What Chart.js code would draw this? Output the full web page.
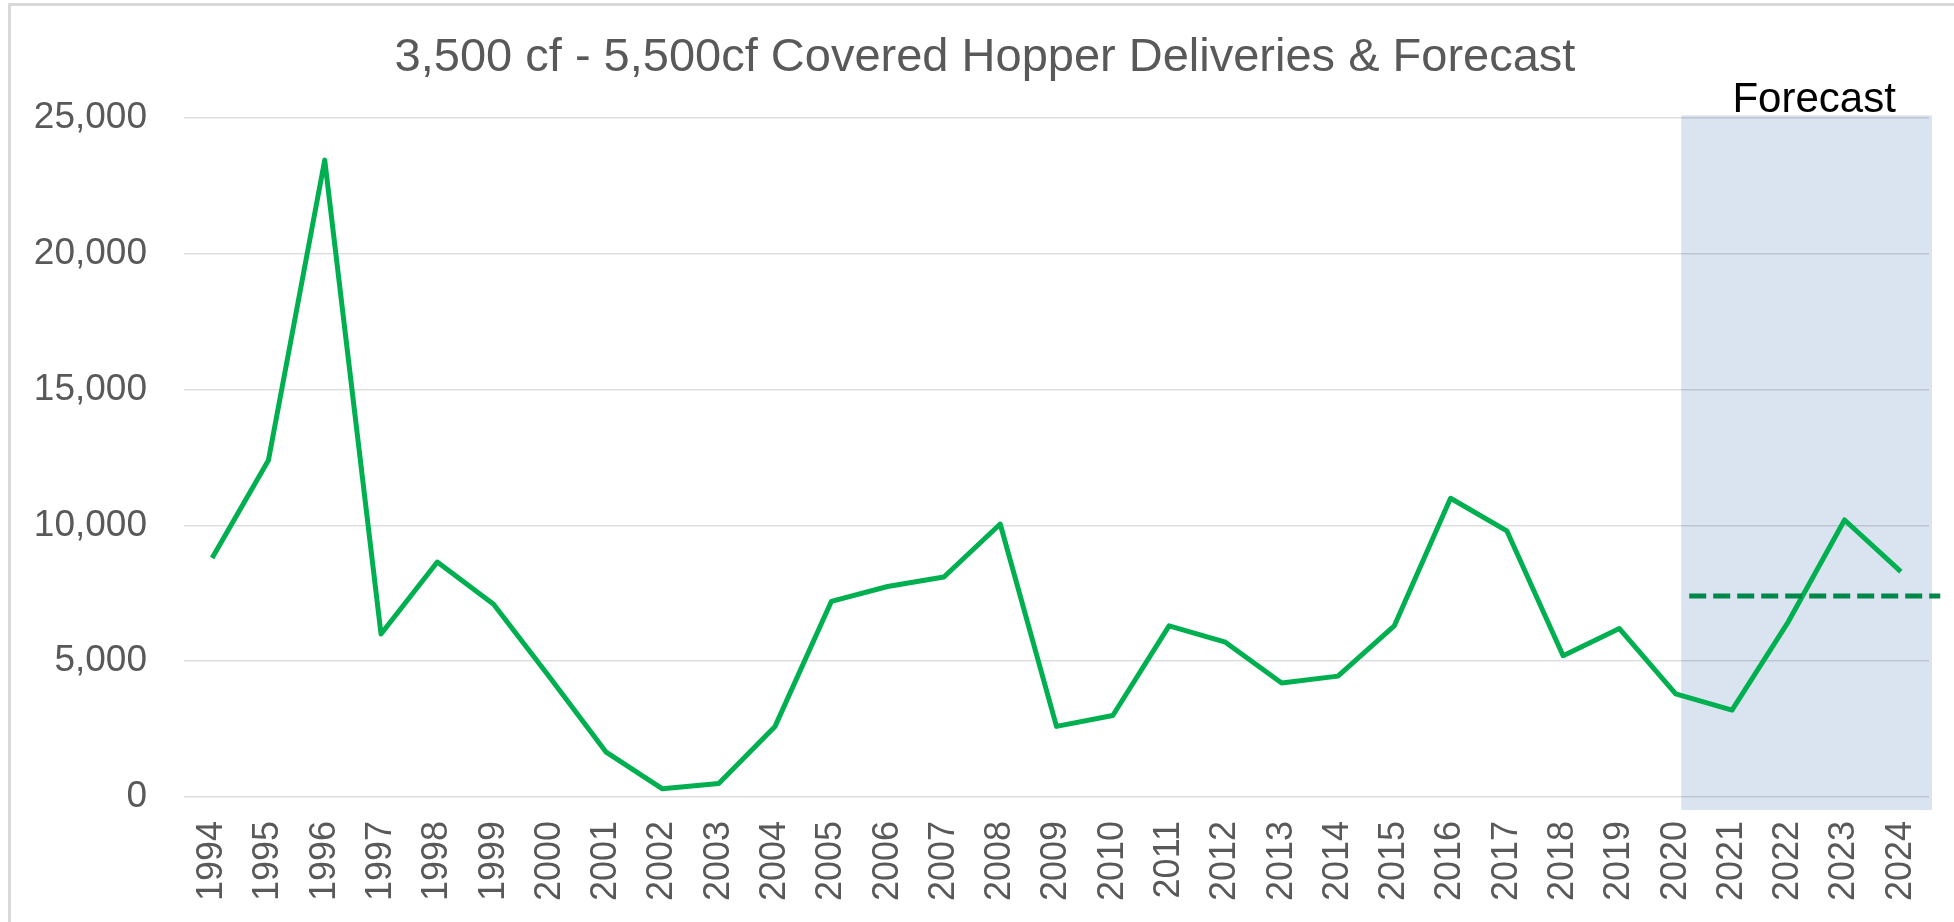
<!DOCTYPE html>
<html>
<head>
<meta charset="utf-8">
<script src="https://cdn.jsdelivr.net/npm/chart.js@4.4.1/dist/chart.umd.min.js"></script>
<style>
  html, body { margin: 0; padding: 0; background: #fff; }
  body { width: 1954px; height: 922px; position: relative; overflow: hidden; }
  #frame { position: absolute; left: 8px; top: 3px; right: 0; bottom: 0;
           border-left: 3px solid #d9d9d9; border-top: 3px solid #d9d9d9; }
  #chart { position: absolute; left: 0; top: 0; }
</style>
</head>
<body>
<div id="frame"></div>
<canvas id="chart" width="1954" height="922"></canvas>
<script>
// data
const years = ['1994','1995','1996','1997','1998','1999','2000','2001','2002','2003',
  '2004','2005','2006','2007','2008','2009','2010','2011','2012','2013',
  '2014','2015','2016','2017','2018','2019','2020','2021','2022','2023','2024'];
const deliveries = [8800, 12400, 23450, 6000, 8650, 7100, 4400, 1650, 300, 500,
  2600, 7200, 7750, 8100, 10050, 2600, 3000, 6300, 5700, 4200,
  4450, 6300, 11000, 9800, 5200, 6200, 3800, 3200, 6450, 10200, 8300];
const yTicks = [0, 5000, 10000, 15000, 20000, 25000];
const forecastLevel = [7400];          // dashed line value
const forecastSpan = [26.1, 30.7];     // category index range of the forecast marks
const forecastLabel = 'Forecast';
const chartTitle = '3,500 cf - 5,500cf Covered Hopper Deliveries & Forecast';

const FONT = '"Liberation Sans", Arial, sans-serif';
const GREY = '#595959';

// shaded forecast box, dashed level line, its label and the title
const forecastPlugin = {
  id: 'forecast',
  beforeDraw(chart) {
    const { ctx, chartArea, scales: { x, y } } = chart;
    const left = x.getPixelForValue(forecastSpan[0]);
    const top = y.getPixelForValue(25100);
    const bottom = y.getPixelForValue(-480);
    ctx.save();
    ctx.fillStyle = '#dae3f0';
    ctx.fillRect(left, top, chartArea.right + 3 - left, bottom - top);
    ctx.restore();
  },
  afterDatasetsDraw(chart) {
    const { ctx, chartArea, scales: { x, y } } = chart;
    const yy = y.getPixelForValue(forecastLevel[0]);
    ctx.save();
    ctx.strokeStyle = '#00884a';
    ctx.lineWidth = 5;
    ctx.setLineDash([17, 7]);
    ctx.beginPath();
    ctx.moveTo(x.getPixelForValue(forecastSpan[0] + 0.14), yy);
    ctx.lineTo(x.getPixelForValue(forecastSpan[1]), yy);
    ctx.stroke();
    ctx.setLineDash([]);
    // label above the box
    const left = x.getPixelForValue(forecastSpan[0]);
    const mid = (left + chartArea.right) / 2 + 9;
    ctx.fillStyle = '#000';
    ctx.font = '42px ' + FONT;
    ctx.textAlign = 'center';
    ctx.textBaseline = 'alphabetic';
    ctx.fillText(forecastLabel, mid, y.getPixelForValue(25000) - 6);
    // title
    ctx.fillStyle = GREY;
    ctx.font = '47px ' + FONT;
    ctx.textBaseline = 'middle';
    ctx.fillText(chartTitle, chart.width / 2 + 8, 58);
    ctx.restore();
  }
};

new Chart(document.getElementById('chart'), {
  type: 'line',
  data: {
    labels: years,
    datasets: [{
      data: deliveries,
      borderColor: '#00b050',
      borderWidth: 5,
      borderJoinStyle: 'round',
      pointRadius: 0,
      tension: 0,
      fill: false
    }]
  },
  options: {
    responsive: false,
    animation: false,
    layout: { padding: { left: 0, right: 25, top: 118, bottom: 0 } },
    plugins: {
      legend: { display: false },
      tooltip: { enabled: false },
      title: { display: false }
    },
    scales: {
      x: {
        offset: true,
        grid: { display: false, drawTicks: false },
        border: { display: false },
        ticks: {
          autoSkip: false,
          minRotation: 90,
          maxRotation: 90,
          padding: 24,
          color: GREY,
          font: { family: FONT, size: 36 }
        },
        afterFit(scale) {
          scale.height = 125;
          scale.paddingLeft = 0;
          scale.paddingRight = 0;
        }
      },
      y: {
        min: 0,
        max: 25000,
        afterBuildTicks(scale) { scale.ticks = yTicks.map(v => ({ value: v })); },
        grid: { color: 'rgba(0,0,0,0.13)', lineWidth: 1.5, drawTicks: false },
        border: { display: false },
        ticks: {
          padding: 37,
          color: GREY,
          font: { family: FONT, size: 37 },
          callback: v => v.toLocaleString('en-US')
        },
        afterFit(scale) {
          scale.width = 184;
          scale.paddingTop = 0;
        }
      }
    }
  },
  plugins: [forecastPlugin]
});
</script>
</body>
</html>
